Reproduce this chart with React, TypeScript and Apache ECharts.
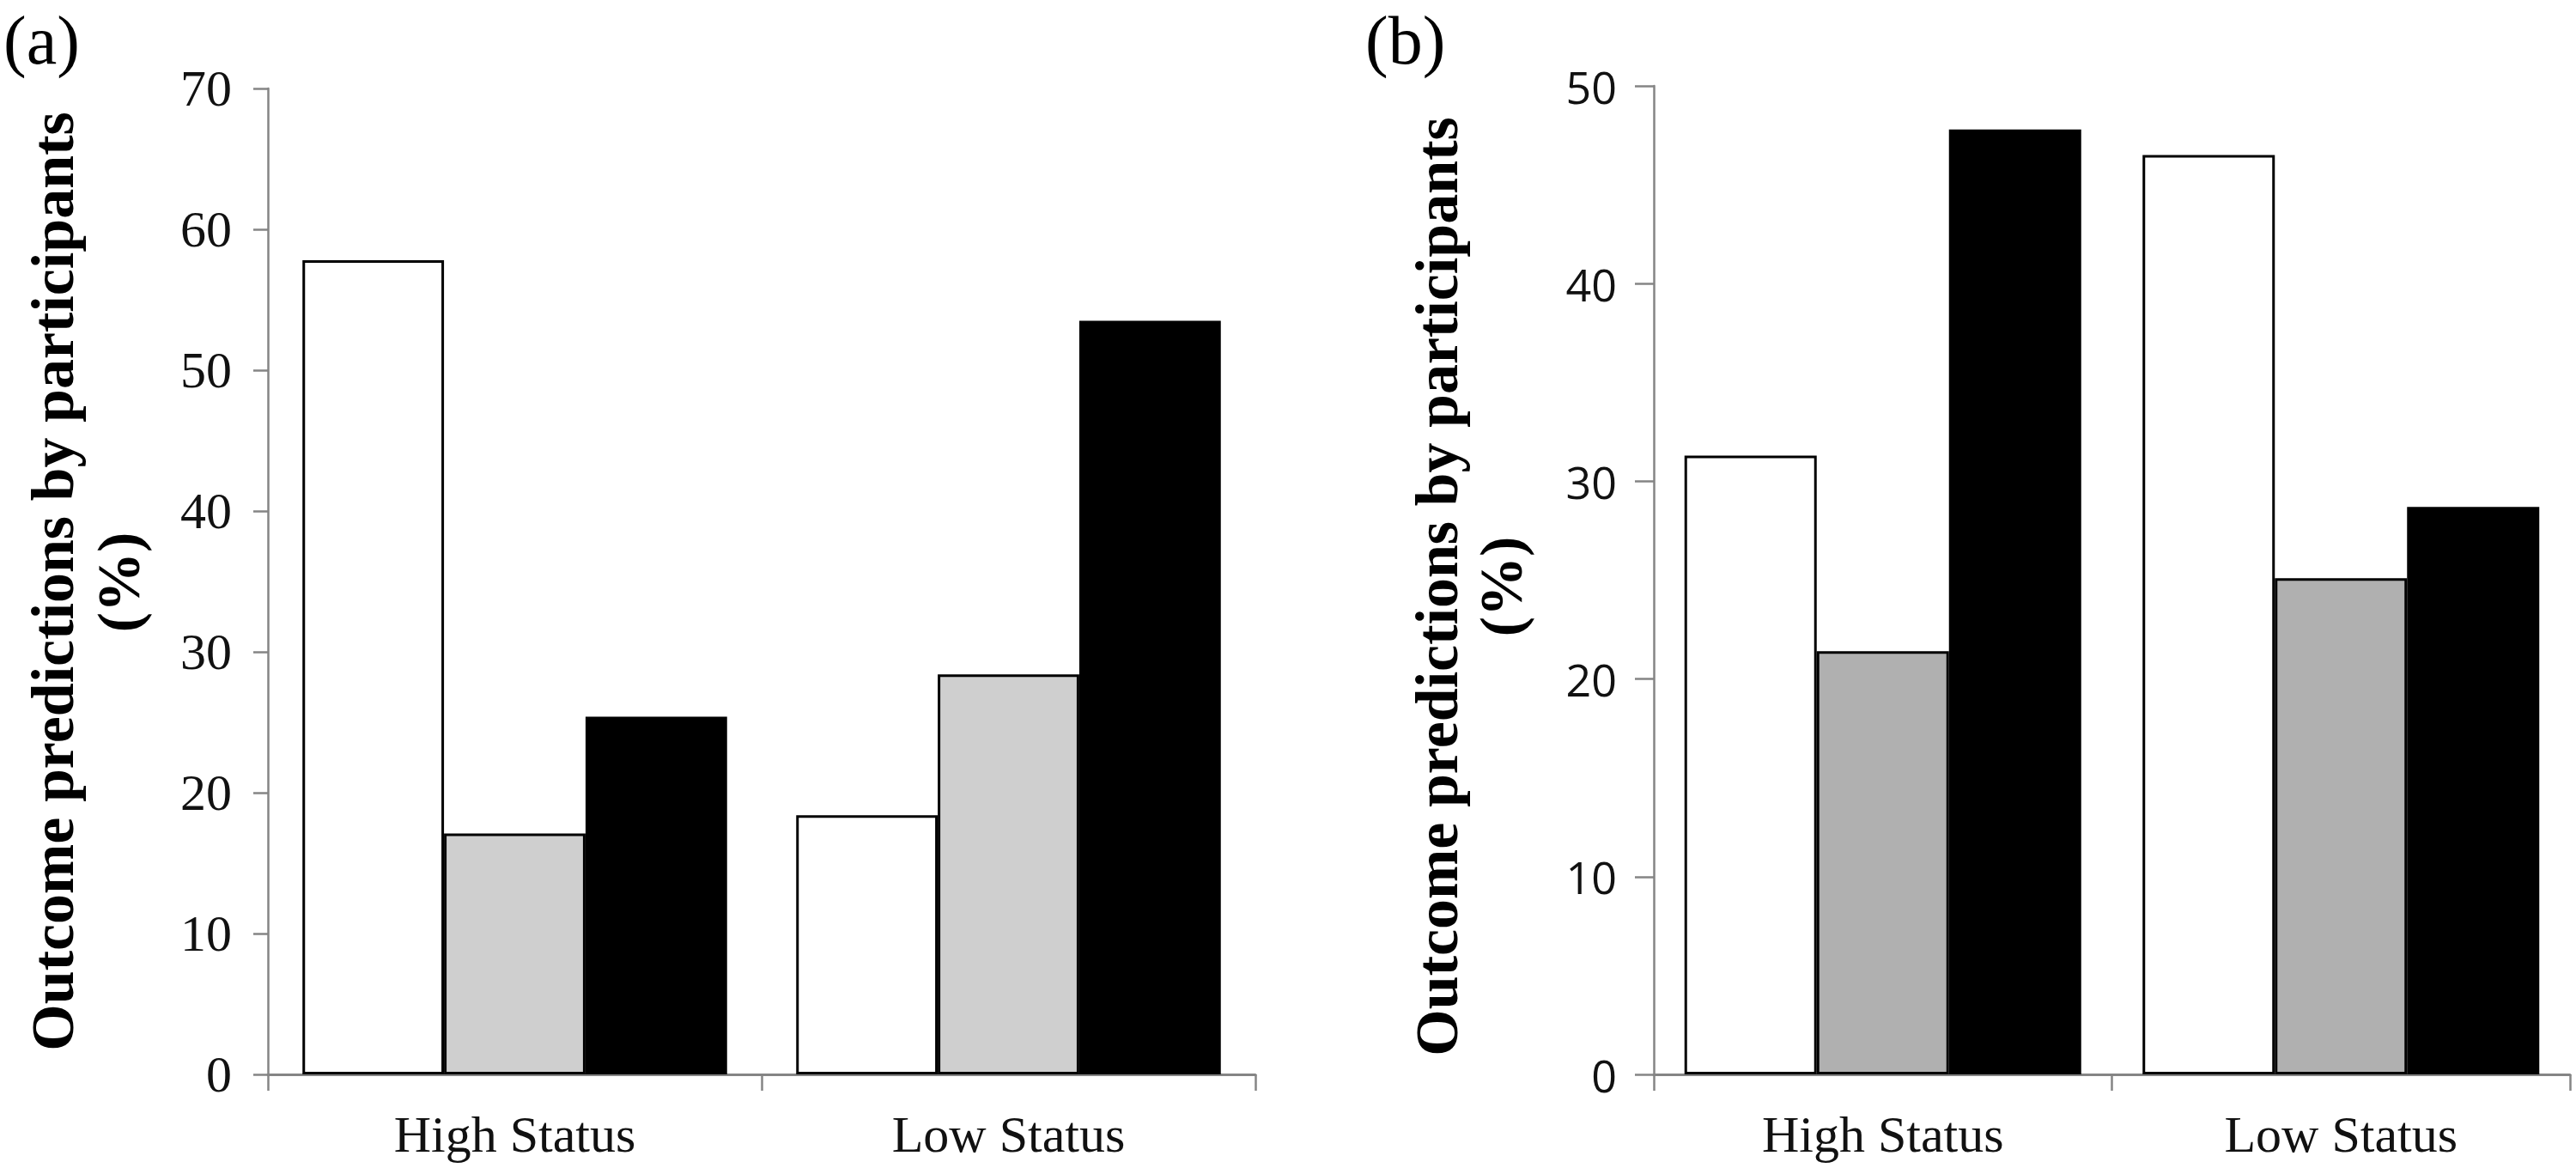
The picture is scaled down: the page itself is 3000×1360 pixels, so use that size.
import React, { useEffect, useRef } from "react";
import * as echarts from "echarts";

const categories = ["High Status", "Low Status"];
const panelAWhite = [57.8, 18.4];
const panelAGray = [17.1, 28.4];
const panelABlack = [25.4, 53.5];
const panelBWhite = [31.3, 46.5];
const panelBGray = [21.4, 25.1];
const panelBBlack = [47.8, 28.7];
const panelAMax = 70;
const panelBMax = 50;
const tickStep = 10;
const yTitle = "Outcome predictions by participants";
const yTitleUnit = "(%)";

const SERIF = "'Liberation Serif', 'Times New Roman', serif";
const SANS = "'Open Sans', 'Noto Sans', sans-serif";
const AXIS_GRAY = "#858585";

export default function App() {
  const ref = useRef<HTMLDivElement>(null);
  useEffect(() => {
    document.body.style.margin = "0";
    if (!ref.current) return;
    const chart = echarts.init(ref.current, undefined, { renderer: "svg" });

    const xAxisCommon = (gridIndex: number) => ({
      type: "category",
      gridIndex,
      data: categories,
      boundaryGap: true,
      axisLine: { show: true, lineStyle: { color: AXIS_GRAY, width: 3 } },
      axisTick: { show: true, interval: 0, length: 19, lineStyle: { color: AXIS_GRAY, width: 2.5 } },
      axisLabel: { interval: 0, margin: 40, fontFamily: SERIF, fontSize: 60, color: "#111" },
      splitLine: { show: false },
    });

    const yAxisCommon = (gridIndex: number, max: number, font: string, size: number, tickLen: number, margin: number) => ({
      type: "value",
      gridIndex,
      min: 0,
      max,
      interval: tickStep,
      axisLine: { show: true, lineStyle: { color: AXIS_GRAY, width: 2.5 } },
      axisTick: { show: true, length: tickLen, lineStyle: { color: AXIS_GRAY, width: 2.5 } },
      axisLabel: { margin, fontFamily: font, fontSize: size, color: "#111" },
      splitLine: { show: false },
    });

    const bar = (name: string, data: number[], color: string, idx: number, gap: string) => ({
      name,
      type: "bar",
      xAxisIndex: idx,
      yAxisIndex: idx,
      data,
      barGap: "0%",
      barCategoryGap: gap,
      itemStyle: { color, borderColor: "#000", borderWidth: 3 },
    });

    const titleText = (x: number, y: number, text: string) => ({
      type: "text",
      x,
      y,
      rotation: Math.PI / 2,
      style: {
        text,
        fontFamily: SERIF,
        fontWeight: "bold",
        fontSize: 70,
        fill: "#000",
        align: "center",
        verticalAlign: "middle",
      },
    });

    const panelLabel = (x: number, y: number, text: string) => ({
      type: "text",
      x,
      y,
      style: {
        text,
        fontFamily: SERIF,
        fontSize: 80,
        lineHeight: 76,
        fill: "#000",
        align: "left",
        verticalAlign: "middle",
      },
    });

    chart.setOption({
      animation: false,
      backgroundColor: "#fff",
      grid: [
        { left: 312, top: 103, width: 1150, height: 1148, containLabel: false },
        { left: 1926, top: 100, width: 1067, height: 1151, containLabel: false },
      ],
      xAxis: [xAxisCommon(0), xAxisCommon(1)],
      yAxis: [
        yAxisCommon(0, panelAMax, SERIF, 60, 17, 42),
        yAxisCommon(1, panelBMax, SANS, 52, 22, 43),
      ],
      series: [
        bar("A1", panelAWhite, "#ffffff", 0, "14%"),
        bar("A2", panelAGray, "#cfcfcf", 0, "14%"),
        bar("A3", panelABlack, "#000000", 0, "14%"),
        bar("B1", panelBWhite, "#ffffff", 1, "13.4%"),
        bar("B2", panelBGray, "#b0b0b0", 1, "13.4%"),
        bar("B3", panelBBlack, "#000000", 1, "13.4%"),
      ],
      graphic: [
        panelLabel(4, 47, "(a)"),
        panelLabel(1590, 47, "(b)"),
        titleText(61, 677, yTitle),
        titleText(138, 678, yTitleUnit),
        titleText(1673, 683, yTitle),
        titleText(1748, 683, yTitleUnit),
      ],
    });
    return () => chart.dispose();
  }, []);
  return <div ref={ref} style={{ width: 3000, height: 1360 }} />;
}
